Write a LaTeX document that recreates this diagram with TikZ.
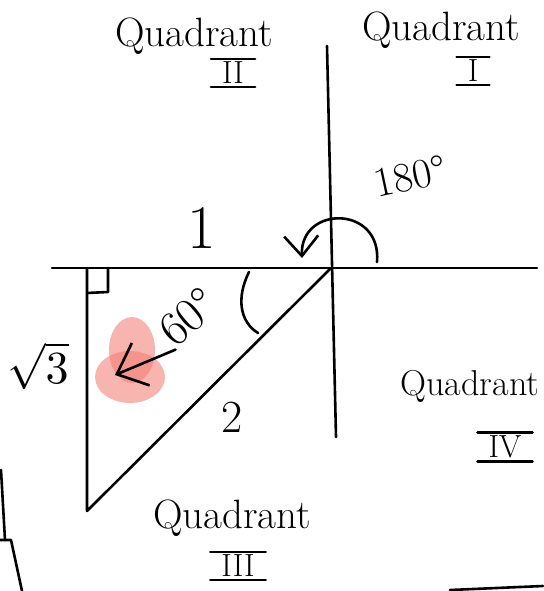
\documentclass[tikz,border=0pt]{standalone}
\usepackage{graphicx}
\usetikzlibrary{arrows.meta}
\definecolor{blobred}{RGB}{243,120,110}

\begin{document}
\begin{tikzpicture}[x=1pt, y=-1pt,
  pen/.style={line width=2.6pt, line cap=round, line join=round},
  quad/.style={font=\fontsize{41}{45}\selectfont, inner sep=0pt},
  numeral/.style={font=\fontsize{32}{36}\selectfont, inner xsep=11pt, inner ysep=3pt},
  lbl/.style={font=\fontsize{62}{66}\selectfont, inner sep=0pt},
  turn/.style={pen, -{Straight Barb[length=20pt, width=34pt, line width=2.6pt]}},
  point/.style={pen, -{Straight Barb[length=26pt, width=46pt, line width=2.6pt]}}
]
\useasboundingbox (0,0) rectangle (543,591);

% axes
\coordinate (O) at (331,268);
\coordinate (xl) at (52,268);
\coordinate (xr) at (537,268);
\coordinate (yt) at (327,46);
\coordinate (yb) at (336,437);
\draw[pen] (xl) -- (xr);
\draw[pen] (yt) -- (yb);

% triangle
\coordinate (A) at (87,268);
\coordinate (B) at (87,511);
\draw[pen] (A) -- (B) -- (O);
\draw[pen] (A) ++(0,25) -- ++(21,-1) -- ++(0,-24);

% angle at the origin
\draw[pen] (249,272) .. controls (236,298) and (240,322) .. (258,333);

% red mark behind the arrow
\fill[blobred, opacity=0.55] (132,350) ellipse (23pt and 33pt);
\fill[blobred, opacity=0.55] (130,377) ellipse (35pt and 26pt);

% labels
\node[lbl] (one) at (202,228) {1};
\node[inner sep=0pt] (root) at (38,366) {\scalebox{4.6}{$\sqrt{3}$}};
\node[lbl, font=\fontsize{46}{50}\selectfont] (two) at (232,417) {2};
\node[lbl, font=\fontsize{48}{52}\selectfont, rotate=40] (sixty) at (188,317) {60°};
\node[lbl, font=\fontsize{42}{46}\selectfont, rotate=12] (half) at (410,176) {180°};

\coordinate (tip) at (115,375);
\draw[point] (sixty.south west) -- (tip);

% 180 degree turn
\coordinate (s) at (377,262);
\coordinate (e) at (302,258);
\draw[turn] (s) .. controls (382,205) and (300,205) .. (e);

% quadrant names
\node[quad] (q2) at (194,36) {Quadrant};
\node[numeral] (n2) at (233,73) {II};
\node[quad] (q1) at (441,30) {Quadrant};
\node[numeral] (n1) at (473,71) {I};
\node[quad, font=\fontsize{36}{40}\selectfont] (q4) at (470,386) {Quadrant};
\node[numeral] (n4) at (505,447) {IV};
\node[quad] (q3) at (232,518) {Quadrant};
\node[numeral] (n3) at (238,566) {III};
\foreach \n in {n1,n2,n3,n4}
  \draw[pen] (\n.north west) -- (\n.north east)
             (\n.south west) -- (\n.south east);

% strokes at the edges
\draw[pen] (1,470) -- (5,540);
\draw[pen] (0,540) -- (11,540) -- (22,591);
\draw[pen] (450,590) -- (543,586);
\end{tikzpicture}
\end{document}
